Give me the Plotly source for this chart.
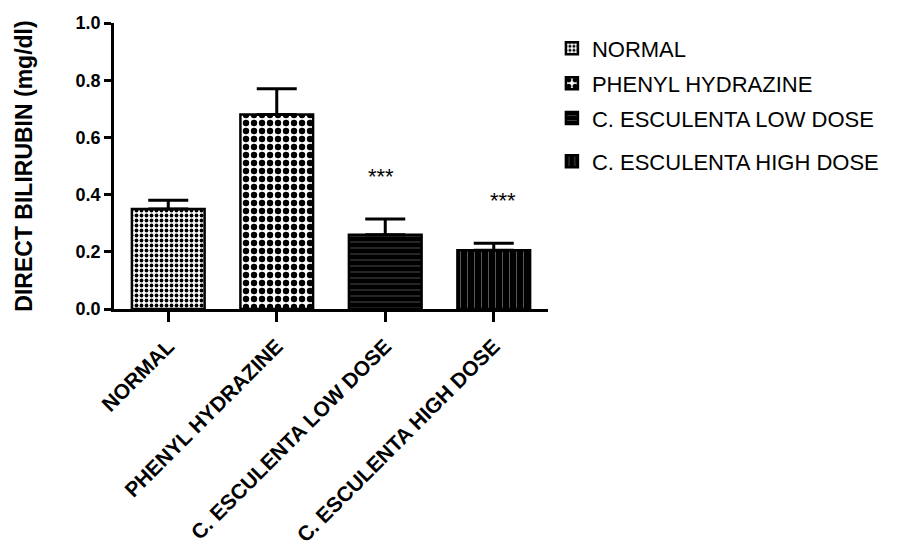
import plotly.graph_objects as go

# Direct bilirubin by treatment group (mean with upper SEM bar)
groups = ["NORMAL", "PHENYL HYDRAZINE", "C. ESCULENTA LOW DOSE", "C. ESCULENTA HIGH DOSE"]
means = [0.35, 0.68, 0.26, 0.205]
sem = [0.03, 0.09, 0.055, 0.025]
signif = ["", "", "***", "***"]

# fill pattern per group: (shape, size, solidity, fg, bg)
patterns = [
    (".", 5, 0.45, "black", "white"),
    (".", 8, 0.5, "black", "white"),
    ("-", 6, 0.05, "white", "black"),
    ("|", 7, 0.05, "white", "black"),
]
star_xshift = [0, 0, -4, 9]
legend_ids = ["legend", "legend2", "legend3", "legend4"]
legend_y = [0.911, 0.789, 0.667, 0.516]

FONT = "Arial, Liberation Sans, sans-serif"

fig = go.Figure()
for i, name in enumerate(groups):
    shape, size, sol, fg, bg = patterns[i]
    fig.add_trace(go.Bar(
        x=[name], y=[means[i]], name=name, width=0.67,
        marker=dict(color=bg, line=dict(color="black", width=2.5),
                    pattern=dict(shape=shape, size=size, solidity=sol,
                                 fgcolor=fg, bgcolor=bg, fillmode="replace")),
        error_y=dict(type="data", array=[sem[i]], arrayminus=[0], symmetric=False,
                     color="black", thickness=3, width=20),
        legend=legend_ids[i],
    ))
    if signif[i]:
        fig.add_annotation(x=name, y=means[i] + sem[i] + 0.15, text=signif[i],
                           showarrow=False, yanchor="middle", xshift=star_xshift[i],
                           font=dict(family=FONT, size=22, color="black"))

legends = {}
for i, lid in enumerate(legend_ids):
    legends[lid] = dict(x=1.009, y=legend_y[i], xanchor="left", yanchor="middle",
                        bgcolor="rgba(0,0,0,0)", font=dict(family=FONT, size=22, color="black"),
                        itemclick=False)

fig.update_layout(
    width=898, height=544,
    margin=dict(l=114, r=350, t=23, b=235, autoexpand=False),
    paper_bgcolor="white", plot_bgcolor="white",
    barmode="overlay", showlegend=True,
    font=dict(family=FONT, color="black"),
    **legends,
)
fig.update_xaxes(
    type="category", categoryorder="array", categoryarray=groups, range=[-0.5, 3.5],
    showline=True, linecolor="black", linewidth=2.5, automargin=False,
    ticks="outside", ticklen=10, tickwidth=2.5, tickcolor="black",
    ticklabelstandoff=4,
    tickangle=-45, tickfont=dict(family=FONT, size=21, color="black", weight="bold"),
    showgrid=False, zeroline=False,
)
fig.update_yaxes(
    range=[0, 1.0], dtick=0.2, tickformat=".1f",
    showline=True, linecolor="black", linewidth=2.5, automargin=False,
    ticks="outside", ticklen=7, tickwidth=2.5, tickcolor="black",
    tickfont=dict(family=FONT, size=18, color="black", weight="bold"),
    title=dict(text="DIRECT BILIRUBIN (mg/dl)", standoff=37,
               font=dict(family=FONT, size=23, color="black", weight="bold")),
    showgrid=False, zeroline=False,
)

fig.write_html("out.html")
